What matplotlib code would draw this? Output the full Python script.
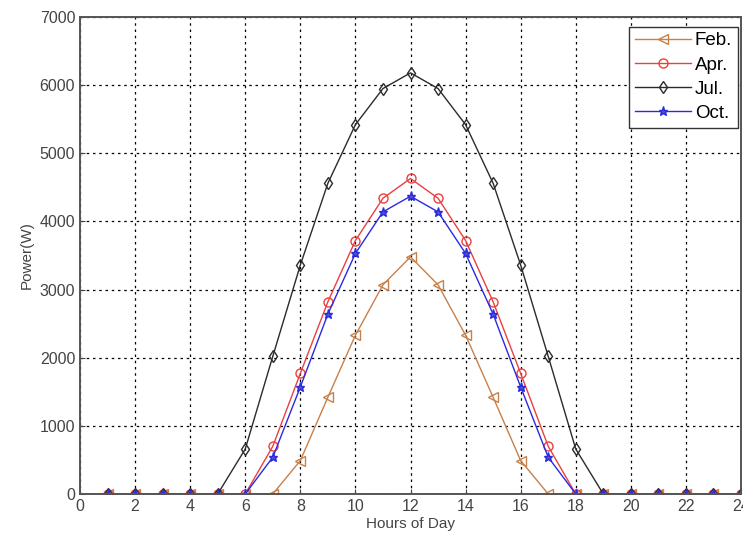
import numpy as np
import matplotlib.pyplot as plt

hours = list(range(1, 25))

feb = [0, 0, 0, 0, 0, 0, 0, 490, 1420, 2330, 3070, 3480,
       3070, 2330, 1420, 490, 0, 0, 0, 0, 0, 0, 0, 0]
apr = [0, 0, 0, 0, 0, 0, 700, 1770, 2820, 3720, 4340, 4630,
       4340, 3720, 2820, 1770, 700, 0, 0, 0, 0, 0, 0, 0]
jul = [0, 0, 0, 0, 0, 660, 2020, 3360, 4560, 5420, 5950, 6180,
       5950, 5420, 4560, 3360, 2020, 660, 0, 0, 0, 0, 0, 0]
oct_ = [0, 0, 0, 0, 0, 0, 540, 1570, 2640, 3530, 4140, 4370,
        4140, 3530, 2640, 1570, 540, 0, 0, 0, 0, 0, 0, 0]

labels = ["Feb.", "Apr.", "Jul.", "Oct."]

plt.rcParams["font.family"] = ["Liberation Sans", "DejaVu Sans"]

fig = plt.figure(figsize=(7.43, 5.42), dpi=100)
ax = fig.add_axes([80 / 743, 48 / 542, 661 / 743, 477 / 542])

ax.plot(hours, feb, color="#c8804a", marker="<", markersize=6.5, fillstyle="none",
        linewidth=1.0, label=labels[0])
ax.plot(hours, apr, color="#e8413f", marker="o", markersize=6.5, fillstyle="none",
        linewidth=1.0, label=labels[1])
ax.plot(hours, jul, color="#2b2b2b", marker="d", markersize=6.5, fillstyle="none",
        linewidth=1.0, label=labels[2])
ax.plot(hours, oct_, color="#2a2ae0", marker="*", markersize=6.5,
        markerfacecolor="#5050c8", linewidth=1.0, label=labels[3])

ax.set_xlim(0, 24)
ax.set_ylim(0, 7000)
ax.set_xticks(np.arange(0, 25, 2))
ax.set_yticks(np.arange(0, 7001, 1000))
ax.grid(True, color="black", linestyle=(0, (2, 3)), linewidth=0.9)
ax.tick_params(direction="in", labelsize=11.5, labelcolor="#444444", color="#444444")
for s in ax.spines.values():
    s.set_color("#555555")
    s.set_linewidth(1.4)

ax.set_xlabel("Hours of Day", fontsize=11, color="#444444", labelpad=2)
ax.set_ylabel("Power(W)", fontsize=11, color="#444444", labelpad=4)

leg = ax.legend(loc="upper right", fontsize=13.5, fancybox=False, framealpha=1,
                edgecolor="#333333", borderpad=0.3, labelspacing=0.38,
                handlelength=3.0, handletextpad=0.2, borderaxespad=0,
                bbox_to_anchor=(0.995, 0.98))
leg.get_frame().set_linewidth(1.0)

plt.savefig("out.png", dpi=100)
